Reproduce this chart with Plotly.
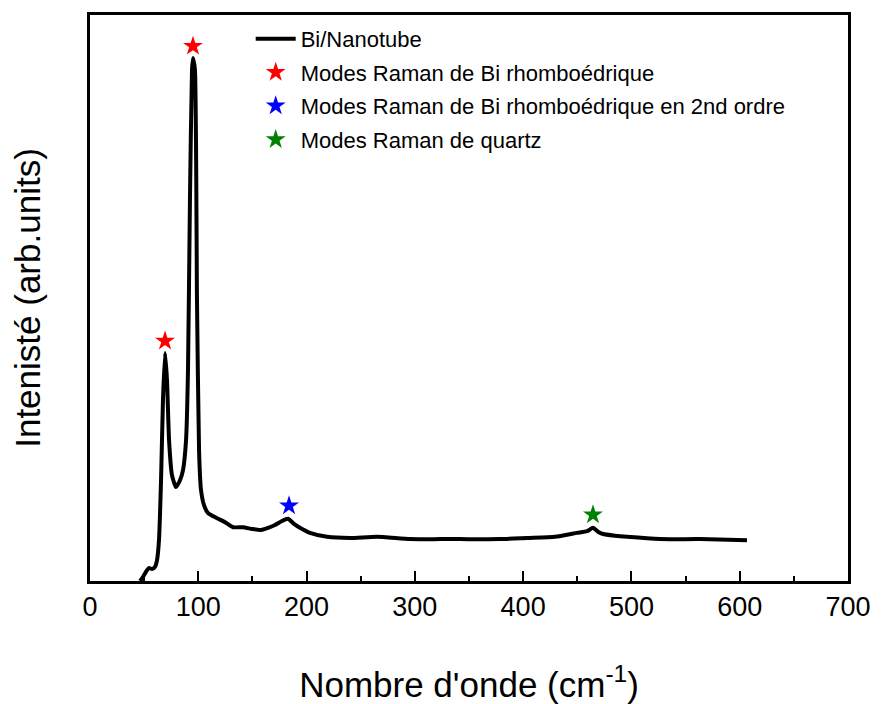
import plotly.graph_objects as go

# Raman spectrum, arbitrary intensity units
wavenumber = [46.2, 48.9, 52.6, 54.5, 57.3, 60.0, 61.9, 63.7, 65.6, 67.4, 69.3, 71.1, 73.0, 75.7,
              79.4, 83.1, 85.9, 88.7, 90.5, 92.3, 94.2, 95.1, 96.9, 98.8, 100.7, 102.5, 105.3,
              109.0, 117.3, 124.7, 132.1, 141.3, 149.6, 157.0, 164.4, 170.8, 177.3, 182.8,
              188.4, 193.9, 203.2, 218.9, 240.1, 265.0, 295.5, 323.2, 341.7, 378.6, 403.5,
              429.4, 449.7, 459.0, 464.5, 469.1, 473.7, 484.8, 495.9, 526.4, 563.3, 606.7]
intensity = [0.0, 0.7, 1.9, 2.3, 2.1, 2.5, 3.7, 7.2, 17.8, 32.0, 40.3, 35.5, 24.9, 18.7,
             16.6, 17.8, 19.6, 24.9, 37.3, 67.3, 90.3, 92.4, 90.3, 49.6, 23.1, 16.1, 13.4,
             12.0, 11.1, 10.4, 9.5, 9.5, 9.2, 9.0, 9.4, 9.9, 10.6, 11.0,
             10.1, 9.4, 8.5, 7.8, 7.6, 7.8, 7.4, 7.4, 7.4, 7.4, 7.6,
             7.8, 8.5, 8.8, 9.4, 8.7, 8.3, 8.0, 7.8, 7.4, 7.4, 7.2]

bi_rhombo_x = [69.3, 95.1]
bi_rhombo_y = [42.4, 94.5]
bi_2nd_x = [183.8]
bi_2nd_y = [13.3]
quartz_x = [464.5]
quartz_y = [11.7]

x_ticks = [0, 100, 200, 300, 400, 500, 600, 700]

fig = go.Figure()
fig.add_trace(go.Scatter(x=wavenumber, y=intensity, mode="lines",
                         line=dict(color="black", width=4, shape="spline", smoothing=0.5),
                         name="Bi/Nanotube", legendgroup="a"))
fig.add_trace(go.Scatter(x=bi_rhombo_x, y=bi_rhombo_y, mode="markers",
                         marker=dict(symbol="star", color="red", size=15),
                         name="Modes Raman de Bi rhomboédrique", legendgroup="b"))
fig.add_trace(go.Scatter(x=bi_2nd_x, y=bi_2nd_y, mode="markers",
                         marker=dict(symbol="star", color="blue", size=15),
                         name="Modes Raman de Bi rhomboédrique en 2nd ordre", legendgroup="c"))
fig.add_trace(go.Scatter(x=quartz_x, y=quartz_y, mode="markers",
                         marker=dict(symbol="star", color="green", size=15),
                         name="Modes Raman de quartz", legendgroup="d"))

font_family = "Liberation Sans, Arial, sans-serif"
fig.update_layout(
    width=874, height=696,
    margin=dict(l=82, r=34, t=7, b=123),
    paper_bgcolor="white", plot_bgcolor="white",
    font=dict(family=font_family, color="black"),
    showlegend=True,
    legend=dict(x=0.212, y=0.995, xanchor="left", yanchor="top",
                bgcolor="rgba(0,0,0,0)", font=dict(size=22, family=font_family),
                tracegroupgap=2, itemwidth=40),
    xaxis=dict(range=[0, 700], tickvals=x_ticks, showgrid=False, zeroline=False,
               automargin=False,
               showline=True, linecolor="black", linewidth=3, mirror=True,
               ticks="inside", ticklen=10, tickwidth=2, tickcolor="black",
               minor=dict(ticks="inside", ticklen=5, tickwidth=2, dtick=50, tickcolor="black"),
               tickfont=dict(size=27),
               title=dict(text="Nombre d'onde (cm<sup>-1</sup>)", font=dict(size=35), standoff=52)),
    yaxis=dict(range=[0, 100], showgrid=False, zeroline=False, showticklabels=False,
               automargin=False,
               showline=True, linecolor="black", linewidth=3, mirror=True, ticks="",
               title=dict(text="Intenisté (arb.units)", font=dict(size=35), standoff=42)),
)

fig.write_html("out.html")
